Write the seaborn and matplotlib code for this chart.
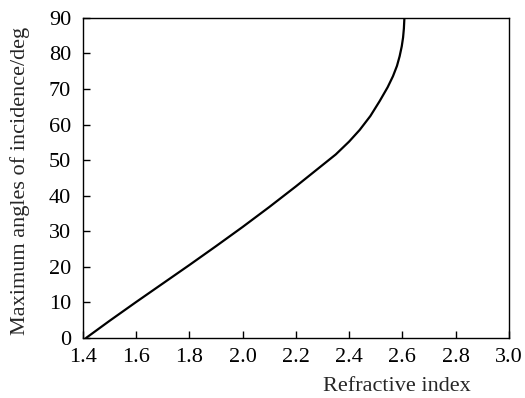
import pandas as pd
import matplotlib.pyplot as plt
import seaborn as sns

# values
refractive_index = [1.412, 1.50, 1.60, 1.70, 1.80, 1.90, 2.00, 2.10, 2.20, 2.25, 2.30,
                    2.35, 2.40, 2.44, 2.48, 2.515, 2.545, 2.565, 2.58, 2.59, 2.598,
                    2.603, 2.606, 2.608]
max_angle = [0.0, 4.8, 10.1, 15.3, 20.5, 25.8, 31.2, 36.8, 42.6, 45.6, 48.6,
             51.6, 55.2, 58.5, 62.4, 66.6, 70.5, 73.6, 76.5, 79.2, 82.0,
             84.5, 87.0, 90.0]
x_ticks = [1.4, 1.6, 1.8, 2.0, 2.2, 2.4, 2.6, 2.8, 3.0]
y_ticks = [0, 10, 20, 30, 40, 50, 60, 70, 80, 90]

data = pd.DataFrame({'n': refractive_index, 'angle': max_angle})

sns.set_style("ticks")
plt.rcParams['font.family'] = ['Liberation Serif', 'DejaVu Serif']

fig, ax = plt.subplots(figsize=(5.25, 3.98), dpi=100)
fig.subplots_adjust(left=0.158, right=0.969, top=0.955, bottom=0.151)

sns.lineplot(data=data, x='n', y='angle', color='black', linewidth=1.6, sort=False, ax=ax)

ax.set_xlim(1.4, 3.0)
ax.set_ylim(0, 90)
ax.set_xticks(x_ticks)
ax.set_xticklabels([f"{t:.1f}" for t in x_ticks])
ax.set_yticks(y_ticks)
ax.tick_params(direction='in', length=5, width=1, labelsize=16, colors='black')
ax.tick_params(axis='x', pad=7)
ax.tick_params(axis='y', pad=8.5)
for s in ax.spines.values():
    s.set_linewidth(1)
    s.set_color('black')

ax.set_xlabel("Refractive index", fontsize=16)
ax.xaxis.set_label_coords(0.737, -0.122)
ax.set_ylabel("Maximum angles of incidence/deg", fontsize=16)
ax.yaxis.set_label_coords(-0.125, 0.49)

plt.savefig("out.png", dpi=100)
